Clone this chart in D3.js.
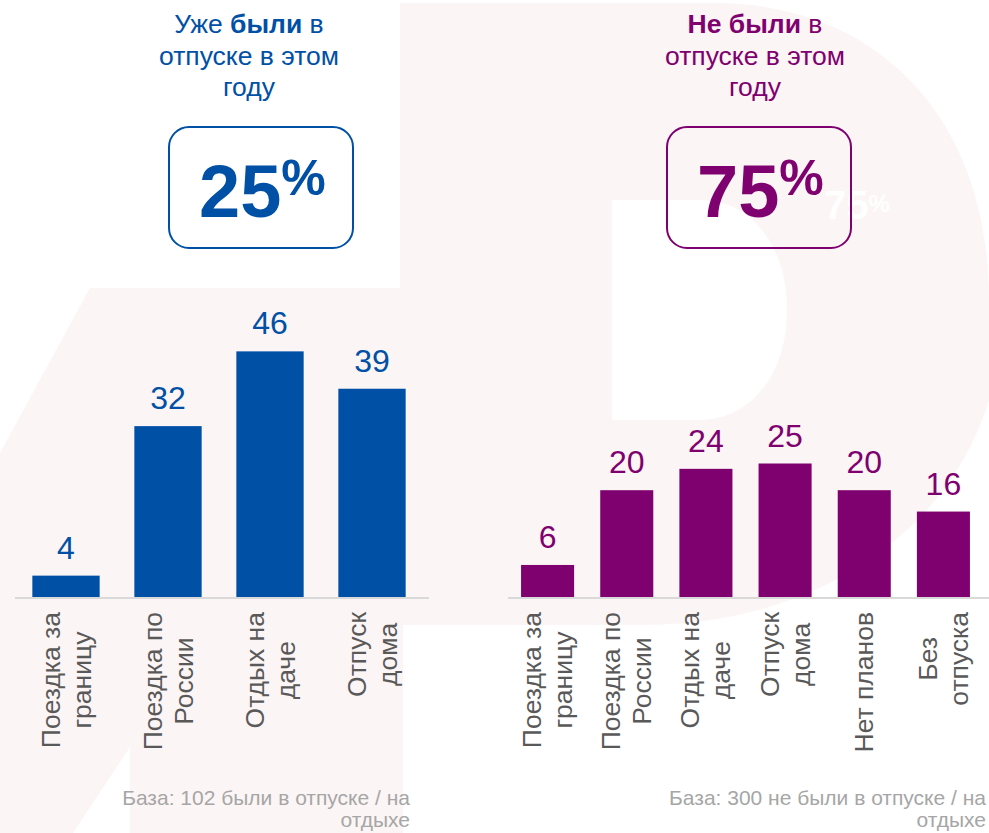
<!DOCTYPE html>
<html>
<head>
<meta charset="utf-8">
<script src="https://cdn.jsdelivr.net/npm/d3@7"></script>
<style>
  html, body { margin: 0; padding: 0; background: #fff; }
  svg { display: block; font-family: "Liberation Sans", Arial, sans-serif; }
</style>
</head>
<body>
<svg id="chart" width="989" height="833"></svg>
<script>

// данные: уже были в отпуске
const catsWas = [["Поездка  за", "границу"], ["Поездка по", "России"], ["Отдых на", "даче"], ["Отпуск", "дома"]];
const valsWas = [4, 32, 46, 39];

// данные: не были в отпуске
const catsNot = [["Поездка  за", "границу"], ["Поездка по", "России"], ["Отдых на", "даче"], ["Отпуск", "дома"], ["Нет планов"], ["Без", "отпуска"]];
const valsNot = [6, 20, 24, 25, 20, 16];

const shareWas = 25;
const shareNot = 75;
const baseWas = ["База: 102 были в отпуске / на", "отдыхе"];
const baseNot = ["База: 300 не были в отпуске / на", "отдыхе"];

const blue = "#0050a6",
      purple = "#7f006f",
      grey = "#595959";

const svg = d3.select("#chart");

// бледный фоновый знак
const bg = svg.append("g");
bg.append("path")
  .attr("fill", "#fcf5f5")
  .attr("d", "M400 3 L715 3 C870 3 989 110 989 300 L989 400 C950 530 820 625 640 625 " +
             "L403 625 L403 833 L130 833 L130 747 L73 833 L0 833 L0 453 L90 288 L400 288 Z");
bg.append("path")
  .attr("fill", "#ffffff")
  .attr("d", "M612 200 L700 200 C755 200 787 250 787 310 C787 375 750 420 700 420 L612 420 Z");

// призрачный текст справа от рамки
const ghost = svg.append("text").attr("x", 824).attr("y", 219)
  .attr("fill", "#ffffff").attr("font-weight", "bold").attr("font-size", 40);
ghost.append("tspan").text("75");
ghost.append("tspan").attr("font-size", 24).attr("dy", -7).text("%");

// общая шкала значений
const y = d3.scaleLinear().domain([0, 50]).range([597, 330]);

function panel(cats, vals, x0, x1, color, pad) {
  const x = d3.scaleBand().domain(d3.range(vals.length)).range([x0, x1]).paddingInner(pad).paddingOuter(pad / 2);
  const g = svg.append("g");

  g.selectAll("rect.bar")
    .data(vals)
    .enter()
    .append("rect")
      .attr("class", "bar")
      .attr("x", (d, i) => x(i))
      .attr("y", d => y(d))
      .attr("width", x.bandwidth())
      .attr("height", d => y(0) - y(d))
      .attr("fill", color);

  g.selectAll("text.val")
    .data(vals)
    .enter()
    .append("text")
      .attr("class", "val")
      .attr("x", (d, i) => x(i) + x.bandwidth() / 2)
      .attr("y", d => y(d) - 17)
      .attr("text-anchor", "middle")
      .attr("font-size", 32)
      .attr("fill", color)
      .text(d => d);

  g.append("line")
    .attr("x1", x0).attr("x2", x1 + 6)
    .attr("y1", y(0) + 1).attr("y2", y(0) + 1)
    .attr("stroke", "#d9d9d9").attr("stroke-width", 2);

  // подписи категорий, повернутые
  cats.forEach((lines, i) => {
    const cx = x(i) + x.bandwidth() / 2;
    const t = g.append("text")
      .attr("font-size", 26.5)
      .attr("fill", grey)
      .attr("text-anchor", "middle");
    lines.forEach((s, k) => {
      t.append("tspan").attr("x", 0).attr("y", (k - (lines.length - 1) / 2) * 31 + 9).text(s);
    });
    const len = d3.max(t.selectAll("tspan").nodes(), n => n.getComputedTextLength());
    t.attr("transform", `translate(${cx},${612 + len / 2}) rotate(-90)`);
  });
}

panel(catsWas, valsWas, 15, 423, blue, 0.34);
panel(catsNot, valsNot, 508, 983, purple, 0.33);

// заголовки
function title(cx, color, first, bold, rest) {
  const t = svg.append("text").attr("text-anchor", "middle").attr("font-size", 26.5).attr("fill", color);
  const l1 = t.append("tspan").attr("x", cx).attr("y", 33);
  if (first) l1.append("tspan").text(first);
  l1.append("tspan").attr("font-weight", "bold").text(bold);
  l1.append("tspan").text(" в");
  rest.forEach((s, k) => t.append("tspan").attr("x", cx).attr("y", 65 + k * 31).text(s));
}
title(249, blue, "Уже ", "были", ["отпуске в этом", "году"]);
title(755, purple, "", "Не были", ["отпуске в этом", "году"]);

// рамки с долями
function shareBox(x, color, v) {
  svg.append("rect")
    .attr("x", x).attr("y", 127).attr("width", 184).attr("height", 121)
    .attr("rx", 20).attr("fill", "none").attr("stroke", color).attr("stroke-width", 2);
  const t = svg.append("text").attr("x", x + 30).attr("y", 217)
    .attr("fill", color).attr("font-weight", "bold");
  t.append("tspan").attr("font-size", 74).text(v);
  t.append("tspan").attr("font-size", 50).attr("dy", -22).text("%");
}
shareBox(169, blue, shareWas);
shareBox(667, purple, shareNot);

// базы
function base(xr, lines) {
  const t = svg.append("text").attr("text-anchor", "end").attr("font-size", 21).attr("fill", "#a6a6a6");
  t.append("tspan").attr("x", xr).attr("y", 805).text(lines[0]);
  t.append("tspan").attr("x", xr).attr("y", 827).text(lines[1]);
}
base(410, baseWas);
base(986, baseNot);

</script>
</body>
</html>
